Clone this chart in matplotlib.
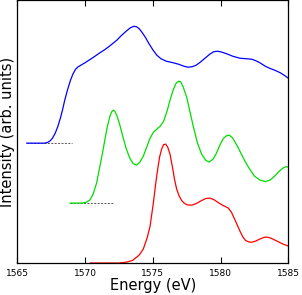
import matplotlib
matplotlib.use("Agg")
import matplotlib.pyplot as plt

# values (energy in eV, height in arb. units)
red_x = [1570.4, 1572.5, 1573.0, 1573.5, 1574.0, 1574.3, 1574.6, 1574.8, 1575.04, 1575.2,
         1575.35, 1575.5, 1575.65, 1575.8, 1575.95, 1576.1, 1576.27, 1576.45, 1576.6, 1576.76,
         1576.95, 1577.13, 1577.35, 1577.6, 1577.9, 1578.2, 1578.6, 1578.9, 1579.2, 1579.5,
         1579.83, 1580.2, 1580.57, 1580.8, 1581.0, 1581.2, 1581.43, 1581.65, 1581.85, 1582.1,
         1582.3, 1582.6, 1582.9, 1583.2, 1583.4, 1583.7, 1584.0, 1584.3, 1584.6, 1585.0]
red_y = [0, 0, 0.7, 2.5, 8, 14, 26, 37, 60, 78,
         93, 106, 114, 118.5, 119, 116, 109, 96, 84, 74,
         67, 62.5, 59.5, 58, 58, 59.5, 62.5, 64.5, 65, 63.5,
         60.5, 57.5, 55, 51, 45, 39, 32, 26, 22.5, 21,
         20.8, 22, 24, 25.6, 26, 25, 23, 21, 19, 17]

green_x = [1568.9, 1569.8, 1570.1, 1570.35, 1570.6, 1570.85, 1571.1, 1571.3, 1571.47, 1571.65,
           1571.84, 1571.97, 1572.08, 1572.2, 1572.35, 1572.55, 1572.8, 1573.05, 1573.3, 1573.55,
           1573.8, 1574.05, 1574.3, 1574.55, 1574.8, 1575.05, 1575.3, 1575.55, 1575.8, 1576.05,
           1576.27, 1576.5, 1576.7, 1576.9, 1577.05, 1577.25, 1577.5, 1577.75, 1578.0, 1578.3,
           1578.6, 1578.9, 1579.15, 1579.45, 1579.7, 1579.95, 1580.2, 1580.45, 1580.65, 1580.9,
           1581.2, 1581.5, 1581.8, 1582.15, 1582.5, 1582.9, 1583.3, 1583.65, 1584.0, 1584.3,
           1584.6, 1584.85, 1585.0]
green_y = [60, 60, 60.8, 63, 69, 80, 97, 111, 124, 137,
           147, 151.5, 153, 152, 147.5, 139, 126, 114, 105, 99.5,
           98, 101, 107, 116, 125, 131, 134, 137, 142, 152,
           163, 173, 179.5, 182, 181.5, 176, 166, 151, 136, 120,
           109, 103, 101, 104, 110, 118, 124.5, 127.5, 128, 125,
           118, 110, 102, 94, 87, 83, 81.5, 83, 87, 91.5,
           95, 96.5, 96]

blue_x = [1565.7, 1567.0, 1567.2, 1567.4, 1567.6, 1567.8, 1568.0, 1568.2, 1568.35, 1568.5,
          1568.7, 1568.9, 1569.1, 1569.3, 1569.5, 1569.75, 1570.0, 1570.4, 1570.73, 1571.1,
          1571.5, 1571.84, 1572.34, 1572.7, 1573.07, 1573.35, 1573.6, 1573.8, 1574.0, 1574.2,
          1574.45, 1574.7, 1575.0, 1575.3, 1575.6, 1576.0, 1576.5, 1576.9, 1577.3, 1577.6,
          1577.9, 1578.2, 1578.5, 1578.85, 1579.2, 1579.5, 1579.75, 1580.0, 1580.45, 1580.9,
          1581.43, 1581.9, 1582.3, 1582.6, 1582.9, 1583.3, 1583.7, 1584.0, 1584.4, 1584.75,
          1585.0]
blue_y = [120, 120, 120.5, 122, 125, 130, 137, 146, 154, 163,
          173, 182, 189, 194, 196.5, 198.5, 200.5, 204, 207, 210.5,
          214, 217.5, 223, 228, 232.5, 235.5, 237, 236.5, 234.5, 231,
          226, 220, 213.5, 208, 204.5, 202, 200.5, 199, 197, 196,
          196.5, 198, 201, 205, 209, 211.5, 212, 211.5, 209.5, 207,
          205, 204.5, 204, 202.5, 200.5, 197, 194.5, 193, 190.5, 187.5,
          185]

# baselines
blue_base = 120
blue_base_x = [1565.7, 1569.0]
green_base = 60
green_base_x = [1568.9, 1572.06]

xticks = [1565, 1570, 1575, 1580, 1585]

fig = plt.figure(figsize=(3.02, 2.95), dpi=100)
ax = fig.add_axes([17.3 / 302, 32 / 295, 271 / 302, 263 / 295])

ax.plot(blue_base_x, [blue_base, blue_base], color="#555555", lw=0.7, ls=(0, (2, 1.5)))
ax.plot(green_base_x, [green_base, green_base], color="#555555", lw=0.7, ls=(0, (2, 1.5)))
ax.plot(red_x, red_y, color="#ff0000", lw=0.9)
ax.plot(green_x, green_y, color="#00dd00", lw=0.9)
ax.plot(blue_x, blue_y, color="#0000ff", lw=0.9)

ax.set_xlim(1565, 1585)
ax.set_ylim(0, 263.3)
ax.set_xticks(xticks)
ax.set_xticklabels([str(t) for t in xticks], fontsize=6.5)
ax.set_yticks([])
ax.tick_params(axis="x", direction="in", top=True, length=4, width=0.8, pad=4)
ax.set_xlabel("Energy (eV)", fontsize=10.5, labelpad=0)
ax.set_ylabel("Intensity (arb. units)", fontsize=10.5, labelpad=2)
for s in ax.spines.values():
    s.set_linewidth(0.9)

fig.savefig("out.png", dpi=100)
